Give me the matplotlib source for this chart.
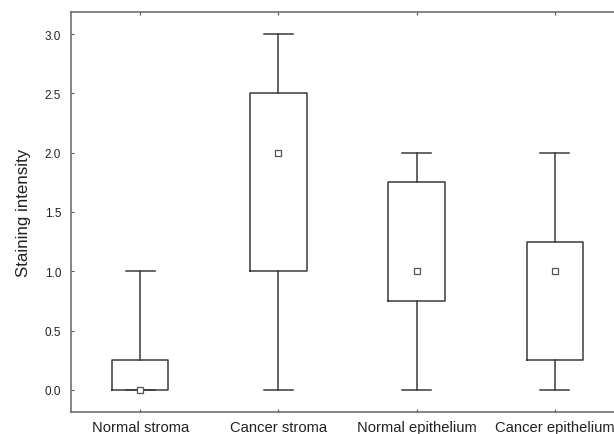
import matplotlib
matplotlib.use("Agg")
import matplotlib.pyplot as plt

categories = ["Normal stroma", "Cancer stroma", "Normal epithelium", "Cancer epithelium"]
whislo = [0.0, 0.0, 0.0, 0.0]
q1 = [0.0, 1.0, 0.75, 0.25]
med = [0.0, 2.0, 1.0, 1.0]
q3 = [0.25, 2.5, 1.75, 1.25]
whishi = [1.0, 3.0, 2.0, 2.0]
yticks = [0.0, 0.5, 1.0, 1.5, 2.0, 2.5, 3.0]

plt.rcParams['font.family'] = ['Liberation Sans', 'DejaVu Sans']

fig = plt.figure(figsize=(6.14, 4.35), dpi=100)
ax = fig.add_axes([71/614, 1 - 413/435, 553/614, 400/435])

stats = [dict(label=c, whislo=a, q1=b, med=m, q3=d, whishi=e, fliers=[])
         for c, a, b, m, d, e in zip(categories, whislo, q1, med, q3, whishi)]
col = '#3a3a3a'
pos = list(range(1, len(categories) + 1))
ax.bxp(stats, positions=pos, widths=0.41, showfliers=False,
       boxprops=dict(color=col, linewidth=1.1),
       whiskerprops=dict(color=col, linewidth=1.1),
       capprops=dict(color=col, linewidth=1.1),
       medianprops=dict(linewidth=0),
       capwidths=0.21)
ax.plot(pos, med, linestyle='none', marker='s', markersize=5,
        markerfacecolor='white', markeredgecolor='#555555', markeredgewidth=0.9, zorder=5)

ax.set_xlim(0.5, 4.5)
ax.set_ylim(-0.186, 3.186)
ax.set_yticks(yticks)
ax.set_yticklabels([f"{v:.1f}" for v in yticks])
ax.set_xticks(pos)
ax.set_xticklabels(categories)
ax.tick_params(axis='y', direction='in', length=2, width=0.8, labelsize=8.5, colors='#555555', pad=7)
ax.tick_params(axis='x', direction='in', length=2, width=0.8, labelsize=10.6, colors='#555555', pad=6, top=True)
for lab in ax.get_xticklabels() + ax.get_yticklabels():
    lab.set_color('#222222')
for s in ['left', 'top', 'bottom', 'right']:
    ax.spines[s].set_color('#666666')
    ax.spines[s].set_linewidth(1.1)
ax.set_ylabel("Staining intensity", fontsize=12.2, color='#222222', labelpad=10)

fig.savefig("out.png", dpi=100)
